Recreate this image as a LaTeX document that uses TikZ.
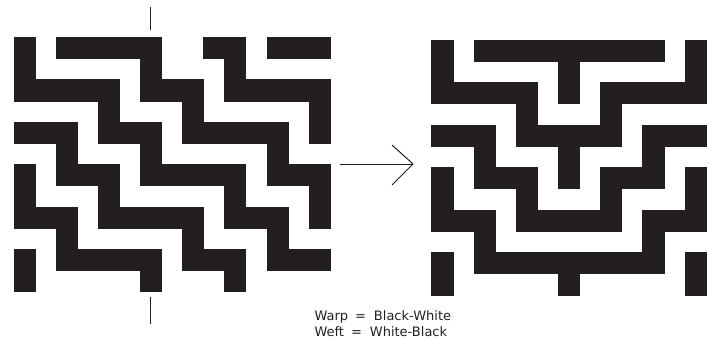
\documentclass[tikz,border=0pt]{standalone}
\usepackage{fontspec}
\setmainfont{DejaVu Sans}
\definecolor{ink}{HTML}{231F20}
\begin{document}
\begin{tikzpicture}[x=1pt,y=-1pt,
  cell/.style={fill=ink,draw=ink,line width=0.6pt},
  tick/.style={draw=ink,line width=1.1pt},
  arr/.style={draw=ink,line width=1pt},
  lbl/.style={anchor=base west,inner sep=0pt,font=\fontsize{13}{15}\selectfont,text=ink}]
\useasboundingbox (0,0) rectangle (709,343);
% left weave pattern (15 x 12 cells)
\foreach \r/\runs in {0/{0/0,2/6,9/10,12/14},
                      1/{0/0,6/6,10/10},
                      2/{0/4,6/8,10/14},
                      3/{4/4,8/8,14/14},
                      4/{0/2,4/6,8/12,14/14},
                      5/{2/2,6/6,12/12},
                      6/{0/0,2/4,6/10,12/14},
                      7/{0/0,4/4,10/10,14/14},
                      8/{0/2,4/8,10/12,14/14},
                      9/{2/2,8/8,12/12},
                      10/{0/0,2/6,8/10,12/14},
                      11/{0/0,6/6,10/10}}{
  \foreach \a/\b in \runs {
    \path[cell] ({14+\a*21.07},{37.3+\r*21.2}) rectangle ({14+(\b+1)*21.07},{37.3+(\r+1)*21.2});
  }
}
% right weave pattern (13 x 12 cells)
\foreach \r/\runs in {0/{0/0,2/10,12/12},
                      1/{0/0,6/6,12/12},
                      2/{0/4,6/6,8/12},
                      3/{4/4,8/8},
                      4/{0/2,4/8,10/12},
                      5/{2/2,6/6,10/10},
                      6/{0/0,2/4,6/6,8/10,12/12},
                      7/{0/0,4/4,8/8,12/12},
                      8/{0/2,4/8,10/12},
                      9/{2/2,10/10},
                      10/{0/0,2/10,12/12},
                      11/{0/0,6/6,12/12}}{
  \foreach \a/\b in \runs {
    \path[cell] ({431.7+\a*21.1},{40+\r*21.25}) rectangle ({431.7+(\b+1)*21.1},{40+(\r+1)*21.25});
  }
}
% tick marks
\coordinate (t1a) at (150.7,7);
\coordinate (t1b) at (150.7,30);
\coordinate (t2a) at (150.7,297);
\coordinate (t2b) at (150.7,324);
\draw[tick] (t1a) -- (t1b);
\draw[tick] (t2a) -- (t2b);
% arrow
\coordinate (as) at (340,164);
\coordinate (ae) at (413,164);
\coordinate (h1) at (392,145);
\coordinate (h2) at (392,185);
\draw[arr] (as) -- (ae);
\draw[arr,line join=miter] (h1) -- (ae) -- (h2);
% labels
\node[lbl] (warp) at (314.3,320) {Warp\hspace{7pt}=\hspace{8pt}Black-White};
\node[lbl] (weft) at (314.3,336) {Weft\hspace{7pt}=\hspace{8pt}White-Black};
\end{tikzpicture}
\end{document}
